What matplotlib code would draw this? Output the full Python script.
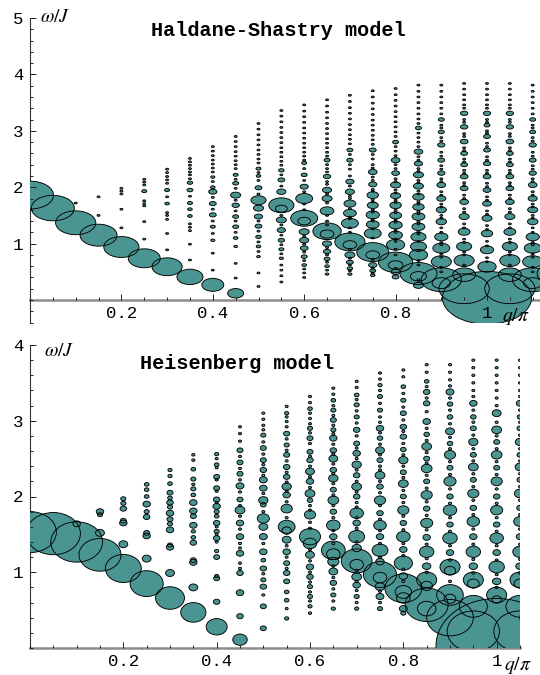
import matplotlib
matplotlib.use("Agg")
import matplotlib.pyplot as plt
import numpy as np
from matplotlib.collections import EllipseCollection
from matplotlib.ticker import MultipleLocator, FixedLocator

plt.rcParams['font.family'] = ['Liberation Mono', 'DejaVu Sans']
plt.rcParams['mathtext.fontset'] = 'stix'

# column positions q/pi; the spectra are symmetric about q/pi = 1,
# so columns right of 1 repeat their mirror partner
Q = [0.00, 0.05, 0.10, 0.15, 0.20, 0.25, 0.30, 0.35, 0.40, 0.45, 0.50,
     0.55, 0.60, 0.65, 0.70, 0.75, 0.80, 0.85, 0.90, 0.95, 1.00]

# ---- Haldane-Shastry model ----
# strongest peak per column: omega/J and diameter (q/pi * 1000)
HS_MAIN_W = [1.86, 1.63, 1.37, 1.15, 0.94, 0.74, 0.59, 0.41, 0.27, 0.12, 1.77,
             1.68, 1.45, 1.22, 1.03, 0.85, 0.67, 0.47, 0.36, 0.20, 0.04]
HS_MAIN_D = [103, 94, 88, 81, 77, 70, 66, 57, 48, 35, 33,
             55, 59, 62, 66, 70, 75, 81, 88, 110, 195]
# other visible peaks (omega, diameter)
HS_PEAKS = [
    [], [], [], [], [],
    [(1.93, 11)],
    [(1.95, 11), (1.71, 10)],
    [(2.08, 12), (1.95, 13), (1.72, 11), (1.61, 10), (1.49, 10)],
    [(2.18, 9), (2.00, 10), (1.92, 18), (1.71, 15), (1.51, 15), (1.30, 11), (1.06, 9)],
    [(2.22, 11), (2.07, 13), (1.86, 22), (1.68, 16), (1.48, 13), (1.30, 13), (1.10, 10), (0.95, 8)],
    [(2.33, 11), (2.20, 10), (1.99, 15), (1.63, 22), (1.48, 18), (1.31, 15), (1.12, 12), (0.95, 10), (0.77, 8)],
    [(2.30, 12), (2.13, 15), (1.92, 20), (1.62, 26), (1.42, 22), (1.24, 18), (1.06, 14), (0.90, 11), (0.74, 9)],
    [(2.43, 11), (2.22, 13), (2.01, 18), (1.80, 37), (1.40, 28), (1.21, 22), (1.06, 20), (0.92, 17),
     (0.77, 13), (0.62, 10)],
    [(2.48, 13), (2.19, 16), (1.95, 20), (1.80, 22), (1.58, 30), (1.17, 30), (1.00, 20), (0.86, 16),
     (0.73, 13), (0.60, 10), (0.46, 8)],
    [(2.66, 13), (2.48, 14), (2.10, 18), (1.92, 20), (1.71, 26), (1.54, 28), (1.36, 37), (0.98, 30),
     (0.80, 22), (0.67, 15), (0.56, 12), (0.46, 9)],
    [(2.66, 15), (2.27, 19), (2.05, 18), (1.86, 25), (1.68, 24), (1.51, 29), (1.34, 28), (1.18, 37),
     (0.80, 30), (0.62, 18), (0.52, 13), (0.44, 10)],
    [(2.80, 13), (2.48, 19), (2.25, 17), (2.04, 22), (1.85, 22), (1.68, 25), (1.50, 26), (1.33, 29),
     (1.15, 30), (0.98, 40), (0.62, 32), (0.50, 20), (0.41, 15)],
    [(3.05, 13), (2.63, 19), (2.42, 18), (2.22, 22), (2.02, 22), (1.83, 25), (1.65, 25), (1.48, 28),
     (1.30, 28), (1.12, 33), (0.95, 35), (0.80, 40), (0.42, 35), (0.26, 22)],
    [(3.20, 13), (2.98, 13), (2.75, 16), (2.48, 15), (2.25, 16), (2.04, 19), (1.80, 20), (1.60, 22),
     (1.39, 23), (1.12, 29), (0.92, 37), (0.68, 44), (0.30, 40)],
    [(3.31, 16), (3.07, 16), (2.81, 17), (2.60, 15), (2.40, 15), (2.19, 17), (1.98, 17), (1.74, 19),
     (1.48, 22), (1.21, 26), (0.95, 33), (0.70, 44), (0.45, 50)],
    [(3.31, 16), (3.10, 13), (2.90, 15), (2.66, 15), (2.42, 16), (2.19, 17), (1.95, 17), (1.71, 19),
     (1.45, 22), (1.18, 25), (0.89, 29), (0.59, 40)],
]
# faint peaks (omega only)
HS_DOTS = [
    [], [],
    [1.72],
    [1.83, 1.50],
    [1.98, 1.93, 1.88, 1.61, 1.28],
    [2.14, 2.09, 2.04, 1.76, 1.71, 1.67, 1.39, 1.08],
    [2.32, 2.26, 2.19, 2.13, 2.07, 1.83, 1.55, 1.50, 1.43, 1.18, 0.89],
    [2.51, 2.45, 2.39, 2.33, 2.27, 2.22, 2.15, 1.84, 1.35, 1.29, 1.23, 0.99, 0.71],
    [2.72, 2.64, 2.56, 2.48, 2.41, 2.34, 2.27, 2.10, 1.82, 1.61, 1.40, 1.18, 0.83, 0.53],
    [2.90, 2.81, 2.72, 2.63, 2.55, 2.47, 2.40, 2.33, 2.14, 1.98, 1.77, 1.58, 1.40, 1.20, 0.65, 0.39],
    [3.13, 3.03, 2.93, 2.84, 2.75, 2.66, 2.58, 2.50, 2.43, 2.26, 2.12, 1.88, 1.40, 1.22, 1.03, 0.86,
     0.48, 0.24],
    [3.36, 3.26, 3.16, 3.06, 2.97, 2.88, 2.79, 2.70, 2.62, 2.54, 2.46, 2.39, 2.22, 2.02, 1.50, 1.33,
     1.15, 0.98, 0.82, 0.62, 0.53, 0.43, 0.32],
    [3.46, 3.35, 3.25, 3.15, 3.05, 2.96, 2.87, 2.78, 2.70, 2.62, 2.55, 2.48, 2.33, 2.12, 1.92, 1.70,
     1.60, 1.13, 0.99, 0.85, 0.70, 0.55, 0.48, 0.40],
    [3.55, 3.44, 3.33, 3.23, 3.13, 3.04, 2.95, 2.86, 2.78, 2.70, 2.62, 2.55, 2.40, 2.33, 2.27, 2.10,
     2.05, 1.88, 1.72, 1.50, 1.40, 1.33, 0.93, 0.80, 0.67, 0.53],
    [3.63, 3.52, 3.41, 3.31, 3.21, 3.11, 3.02, 2.93, 2.85, 2.77, 2.58, 2.40, 2.32, 2.20, 2.02, 1.84,
     1.80, 1.62, 1.47, 1.44, 1.28, 1.20, 0.90, 0.74, 0.62, 0.52],
    [3.71, 3.60, 3.49, 3.39, 3.29, 3.19, 3.10, 3.01, 2.92, 2.84, 2.76, 2.58, 2.50, 2.40, 2.34, 2.18,
     2.12, 1.96, 1.93, 1.78, 1.74, 1.60, 1.56, 1.43, 1.40, 1.26, 1.10, 0.72, 0.57, 0.48],
    [3.75, 3.64, 3.54, 3.44, 3.34, 3.25, 3.16, 3.07, 2.98, 2.90, 2.72, 2.64, 2.56, 2.40, 2.33, 2.15,
     2.10, 1.95, 1.90, 1.77, 1.73, 1.59, 1.55, 1.42, 1.38, 1.24, 1.20, 1.08, 1.04, 0.90, 0.80, 0.56],
    [3.81, 3.70, 3.60, 3.50, 3.40, 3.30, 3.21, 3.13, 2.96, 2.88, 2.80, 2.72, 2.54, 2.48, 2.33, 2.28,
     2.12, 2.08, 1.93, 1.88, 1.74, 1.70, 1.57, 1.53, 1.39, 1.35, 1.21, 1.17, 1.04, 0.88, 0.70, 0.62,
     0.36],
    [3.81, 3.70, 3.60, 3.50, 3.40, 3.30, 3.10, 3.05, 2.88, 2.82, 2.62, 2.55, 2.38, 2.32, 2.15, 2.10,
     1.92, 1.86, 1.70, 1.65, 1.50, 1.45, 1.28, 1.20, 1.02, 0.98, 0.82, 0.76, 0.58, 0.50],
    [3.84, 3.74, 3.64, 3.55, 3.46, 3.40, 3.20, 3.15, 2.95, 2.90, 2.70, 2.65, 2.50, 2.45, 2.30, 2.25,
     2.08, 2.03, 1.86, 1.80, 1.62, 1.56, 1.35, 1.28, 1.08, 1.02, 0.85, 0.80, 0.62],
    [3.84, 3.74, 3.64, 3.55, 3.46, 3.40, 3.20, 3.15, 3.00, 2.96, 2.78, 2.72, 2.54, 2.48, 2.30, 2.25,
     2.07, 2.01, 1.83, 1.77, 1.58, 1.52, 1.32, 1.25, 1.04, 0.96, 0.75, 0.68],
]

# ---- Heisenberg model ----
H_MAIN_W = [1.53, 1.51, 1.40, 1.23, 1.05, 0.85, 0.66, 0.47, 0.28, 0.11, 1.71,
            1.60, 1.47, 1.29, 1.15, 0.97, 0.79, 0.57, 0.40, 0.22, 0.03]
H_MAIN_D = [113, 116, 111, 90, 77, 71, 62, 54, 45, 31, 26,
            36, 45, 51, 66, 71, 79, 92, 100, 112, 260]
H_PEAKS = [
    [], [],
    [(1.64, 16)],
    [(1.80, 16), (1.76, 11), (1.52, 19)],
    [(1.97, 11), (1.91, 11), (1.84, 14), (1.68, 13), (1.65, 16), (1.37, 19)],
    [(2.16, 10), (2.09, 10), (2.00, 10), (1.90, 16), (1.80, 11), (1.73, 14), (1.52, 13), (1.48, 16),
     (1.18, 19)],
    [(2.35, 9), (2.27, 9), (2.17, 10), (2.05, 13), (1.98, 10), (1.92, 14), (1.86, 11), (1.78, 16),
     (1.70, 13), (1.64, 11), (1.56, 16), (1.36, 11), (1.33, 16), (0.99, 19)],
    [(2.55, 7), (2.48, 7), (2.36, 10), (2.23, 11), (2.16, 7), (2.10, 11), (2.02, 10), (1.92, 16),
     (1.81, 16), (1.74, 13), (1.62, 16), (1.54, 9), (1.46, 10), (1.39, 14), (1.16, 13), (1.13, 16),
     (0.80, 19)],
    [(2.56, 9), (2.42, 10), (2.26, 13), (2.11, 13), (1.96, 14), (1.87, 16), (1.80, 11), (1.74, 10),
     (1.65, 14), (1.54, 11), (1.45, 14), (1.28, 9), (1.20, 13), (0.95, 9), (0.92, 13), (0.61, 14)],
    [(2.61, 13), (2.45, 13), (2.30, 13), (2.14, 17), (1.96, 13), (1.82, 21), (1.65, 16), (1.47, 16),
     (1.25, 16), (0.99, 14), (0.73, 16), (0.42, 14)],
    [(2.81, 11), (2.64, 13), (2.48, 13), (2.35, 14), (2.22, 17), (2.11, 16), (1.95, 20), (1.89, 12),
     (1.60, 19), (1.47, 17), (1.27, 16), (1.16, 10), (1.05, 14), (0.90, 11), (0.81, 14), (0.55, 13),
     (0.26, 13)],
    [(3.10, 9), (2.83, 13), (2.68, 11), (2.55, 13), (2.39, 14), (2.26, 14), (2.13, 20), (2.02, 16),
     (1.84, 24), (1.55, 20), (1.43, 19), (1.27, 16), (1.12, 13), (0.99, 14), (0.88, 13), (0.74, 10),
     (0.63, 10), (0.39, 9)],
    [(3.16, 10), (2.90, 11), (2.77, 13), (2.59, 13), (2.48, 14), (2.33, 19), (2.20, 16), (2.04, 21),
     (1.95, 12), (1.76, 24), (1.38, 29), (1.23, 19), (1.07, 16), (0.94, 14), (0.81, 11), (0.68, 11),
     (0.55, 9), (0.46, 7)],
    [(3.27, 10), (3.14, 11), (3.01, 13), (2.88, 11), (2.77, 16), (2.61, 14), (2.50, 19), (2.35, 14),
     (2.24, 20), (2.09, 13), (1.95, 23), (1.80, 14), (1.62, 29), (1.47, 16), (1.24, 29), (1.14, 24),
     (1.01, 19), (0.86, 14), (0.70, 11), (0.52, 9)],
    [(3.34, 10), (3.21, 11), (3.05, 11), (2.88, 14), (2.70, 13), (2.57, 16), (2.42, 20), (2.28, 14),
     (2.13, 21), (2.00, 14), (1.78, 29), (1.65, 16), (1.47, 34), (1.32, 20), (1.10, 29), (0.94, 21),
     (0.83, 16), (0.68, 11), (0.52, 9)],
    [(3.47, 9), (3.32, 11), (3.14, 11), (2.90, 16), (2.77, 12), (2.61, 19), (2.48, 13), (2.28, 21),
     (2.13, 14), (1.95, 24), (1.78, 14), (1.62, 27), (1.47, 16), (1.29, 34), (1.14, 18), (0.93, 29),
     (0.81, 21), (0.68, 17), (0.52, 11)],
    [(3.45, 10), (3.27, 11), (3.10, 13), (2.92, 14), (2.79, 14), (2.62, 12), (2.48, 20), (2.32, 13),
     (2.17, 21), (2.00, 13), (1.82, 24), (1.65, 14), (1.47, 29), (1.30, 16), (1.12, 39), (0.95, 18),
     (0.74, 35), (0.66, 29), (0.52, 17), (0.46, 11)],
    [(3.52, 10), (3.38, 14), (3.23, 14), (2.99, 16), (2.82, 12), (2.66, 21), (2.50, 13), (2.37, 23),
     (2.20, 13), (2.02, 24), (1.84, 14), (1.65, 26), (1.46, 16), (1.27, 31), (1.08, 18), (0.90, 43),
     (0.82, 25), (0.52, 40)],
    [(3.38, 17), (3.22, 12), (3.05, 12), (2.86, 19), (2.70, 12), (2.55, 24), (2.38, 13), (2.20, 26),
     (2.00, 14), (1.82, 29), (1.63, 14), (1.45, 31), (1.26, 16), (1.07, 43), (1.02, 24), (0.70, 57),
     (0.65, 25)],
    [(3.23, 16), (3.05, 12), (2.90, 13), (2.72, 20), (2.55, 13), (2.39, 21), (2.22, 13), (2.04, 24),
     (1.85, 14), (1.67, 27), (1.47, 16), (1.27, 31), (1.08, 18), (0.90, 43), (0.85, 25), (0.55, 60)],
    [(3.10, 19), (2.88, 21), (2.72, 13), (2.55, 23), (2.38, 13), (2.20, 24), (2.00, 14), (1.82, 26),
     (1.63, 14), (1.45, 29), (1.26, 16), (1.07, 33), (0.88, 18), (0.70, 43), (0.64, 20)],
]
H_DOTS = [
    [], [], [], [], [], [], [], [],
    [2.50, 2.38, 2.22, 2.07, 1.92, 1.60, 1.50, 1.40],
    [2.92, 2.83, 2.73, 2.53, 2.37, 2.22, 2.06, 1.88, 1.74, 1.57, 1.38, 1.32, 1.12, 1.05],
    [3.10, 3.02, 2.94, 2.88, 2.72, 2.56, 2.42, 2.28, 2.04, 1.80, 1.38, 0.98, 0.70],
    [3.19, 3.05, 2.99, 2.92, 2.76, 2.61, 2.47, 2.32, 2.19, 2.07, 1.93, 1.72, 1.35, 1.20, 1.05, 0.52],
    [3.32, 3.24, 3.10, 3.03, 2.96, 2.84, 2.70, 2.53, 2.40, 2.26, 2.12, 1.88, 1.82, 1.66, 1.58, 1.30,
     1.15, 1.00, 0.87, 0.74, 0.62],
    [3.43, 3.35, 3.20, 3.07, 2.94, 2.83, 2.69, 2.56, 2.43, 2.30, 2.17, 2.02, 1.88, 1.72, 1.55, 1.38,
     1.08, 0.93, 0.78, 0.62],
    [3.52, 3.44, 3.28, 3.13, 2.97, 2.80, 2.64, 2.50, 2.35, 2.20, 2.06, 1.92, 1.86, 1.72, 1.58, 1.40,
     1.02, 0.88, 0.76, 0.60],
    [3.63, 3.55, 3.40, 3.23, 3.05, 2.98, 2.84, 2.69, 2.55, 2.40, 2.35, 2.20, 2.05, 1.88, 1.70, 1.55,
     1.38, 1.20, 0.75, 0.60],
    [3.67, 3.58, 3.36, 3.18, 3.01, 2.86, 2.70, 2.55, 2.40, 2.25, 2.08, 1.92, 1.74, 1.56, 1.38, 1.22,
     1.04, 0.88],
    [3.74, 3.64, 3.45, 3.30, 3.12, 2.90, 2.74, 2.58, 2.44, 2.28, 2.11, 1.93, 1.75, 1.56, 1.37, 1.18,
     1.00],
    [3.74, 3.64, 3.54, 3.46, 3.30, 3.14, 2.96, 2.78, 2.63, 2.46, 2.29, 2.10, 1.91, 1.72, 1.54, 1.35,
     1.16, 0.88],
    [3.80, 3.70, 3.60, 3.50, 3.40, 3.32, 3.14, 2.98, 2.81, 2.63, 2.47, 2.30, 2.13, 1.95, 1.76, 1.57,
     1.37, 1.17, 0.99],
    [3.80, 3.70, 3.60, 3.50, 3.40, 3.30, 3.20, 2.98, 2.80, 2.63, 2.46, 2.29, 2.10, 1.91, 1.72, 1.54,
     1.35, 1.16, 0.97, 0.80],
]

TEAL = '#4a9592'
ASPECT = 4.8  # ellipse height in omega/J per unit of width in q/pi


def draw_panel(ax, main_w, main_d, peaks, dots, dot_d, qmax):
    xs, ys, ds = [], [], []
    for i, q in enumerate(Q):
        col = [(main_w[i], main_d[i])] + peaks[i] + [(w, dot_d) for w in dots[i]]
        places = [q]
        if q < 1 and 2 - q < qmax + 0.1:
            places.append(2 - q)
        for x in places:
            for w, d in col:
                xs.append(x)
                ys.append(w)
                ds.append(d / 1000)
    ds = np.array(ds)
    offs = np.column_stack([xs, ys])
    ang = np.zeros_like(ds)
    fill = EllipseCollection(ds, ds * ASPECT, ang, units='xy', offsets=offs,
                             offset_transform=ax.transData, facecolors=TEAL,
                             edgecolors='none', zorder=3)
    edge = EllipseCollection(ds, ds * ASPECT, ang, units='xy', offsets=offs,
                             offset_transform=ax.transData, facecolors='none',
                             edgecolors='black', linewidths=0.65, zorder=4)
    ax.add_collection(fill)
    ax.add_collection(edge)


def style_axes(ax, xmax, ymin, ymax, yticks):
    ax.set_xlim(0, xmax)
    ax.set_ylim(ymin, ymax)
    for s in ('top', 'right'):
        ax.spines[s].set_visible(False)
    ax.spines['bottom'].set_position(('data', 0))
    ax.spines['bottom'].set_color('#8c8c8c')
    ax.spines['bottom'].set_linewidth(1.8)
    ax.spines['bottom'].set_zorder(1)
    ax.spines['left'].set_color('#333333')
    ax.spines['left'].set_linewidth(0.8)
    ax.xaxis.set_major_locator(FixedLocator([0.2, 0.4, 0.6, 0.8, 1.0]))
    ax.set_xticklabels(['0.2', '0.4', '0.6', '0.8', '1'])
    ax.xaxis.set_minor_locator(MultipleLocator(0.05))
    ax.yaxis.set_major_locator(FixedLocator(yticks))
    ax.set_yticklabels([str(t) for t in yticks])
    ax.yaxis.set_minor_locator(MultipleLocator(0.2))
    ax.tick_params(which='both', direction='in', color='#222222', width=0.7,
                   labelsize=12.5)
    ax.tick_params(which='major', length=4.5)
    ax.tick_params(which='minor', length=2.2)
    ax.tick_params(axis='x', pad=4)
    ax.tick_params(axis='y', pad=5)
    # tick labels stay readable on top of the big ellipses
    ax.xaxis.set_zorder(6)
    ax.yaxis.set_zorder(6)
    ax.patch.set_visible(False)


fig = plt.figure(figsize=(5.4, 6.75), dpi=100)

# top panel: q/pi 0 -> 1.116, omega -0.4 -> 5
ax1 = fig.add_axes([30 / 540, 1 - 322.6 / 675, 510 / 540, 304.6 / 675])
style_axes(ax1, 510 / 457, -0.4, 5.0, [1, 2, 3, 4, 5])
draw_panel(ax1, HS_MAIN_W, HS_MAIN_D, HS_PEAKS, HS_DOTS, 6.5, 510 / 457)

# bottom panel: q/pi 0 -> 1.05, omega 0 -> 4
ax2 = fig.add_axes([30 / 540, 1 - 648 / 675, 490 / 540, 303 / 675])
style_axes(ax2, 1.05, 0.0, 4.0, [1, 2, 3, 4])
draw_panel(ax2, H_MAIN_W, H_MAIN_D, H_PEAKS, H_DOTS, 6.5, 1.05)

fig.text(278 / 540, 1 - 31 / 675, 'Haldane-Shastry model', ha='center', va='center',
         fontsize=14.5, fontweight='bold')
fig.text(237 / 540, 1 - 364 / 675, 'Heisenberg model', ha='center', va='center',
         fontsize=14.5, fontweight='bold')
fig.text(40 / 540, 1 - 17 / 675, r'$\omega/J$', ha='left', va='center', fontsize=14)
fig.text(44 / 540, 1 - 351 / 675, r'$\omega/J$', ha='left', va='center', fontsize=14)
fig.text(502 / 540, 1 - 316 / 675, r'$q/\pi$', ha='left', va='center', fontsize=14,
         zorder=10)
fig.text(504 / 540, 1 - 665 / 675, r'$q/\pi$', ha='left', va='center', fontsize=14)

fig.savefig('out.png', dpi=100)
